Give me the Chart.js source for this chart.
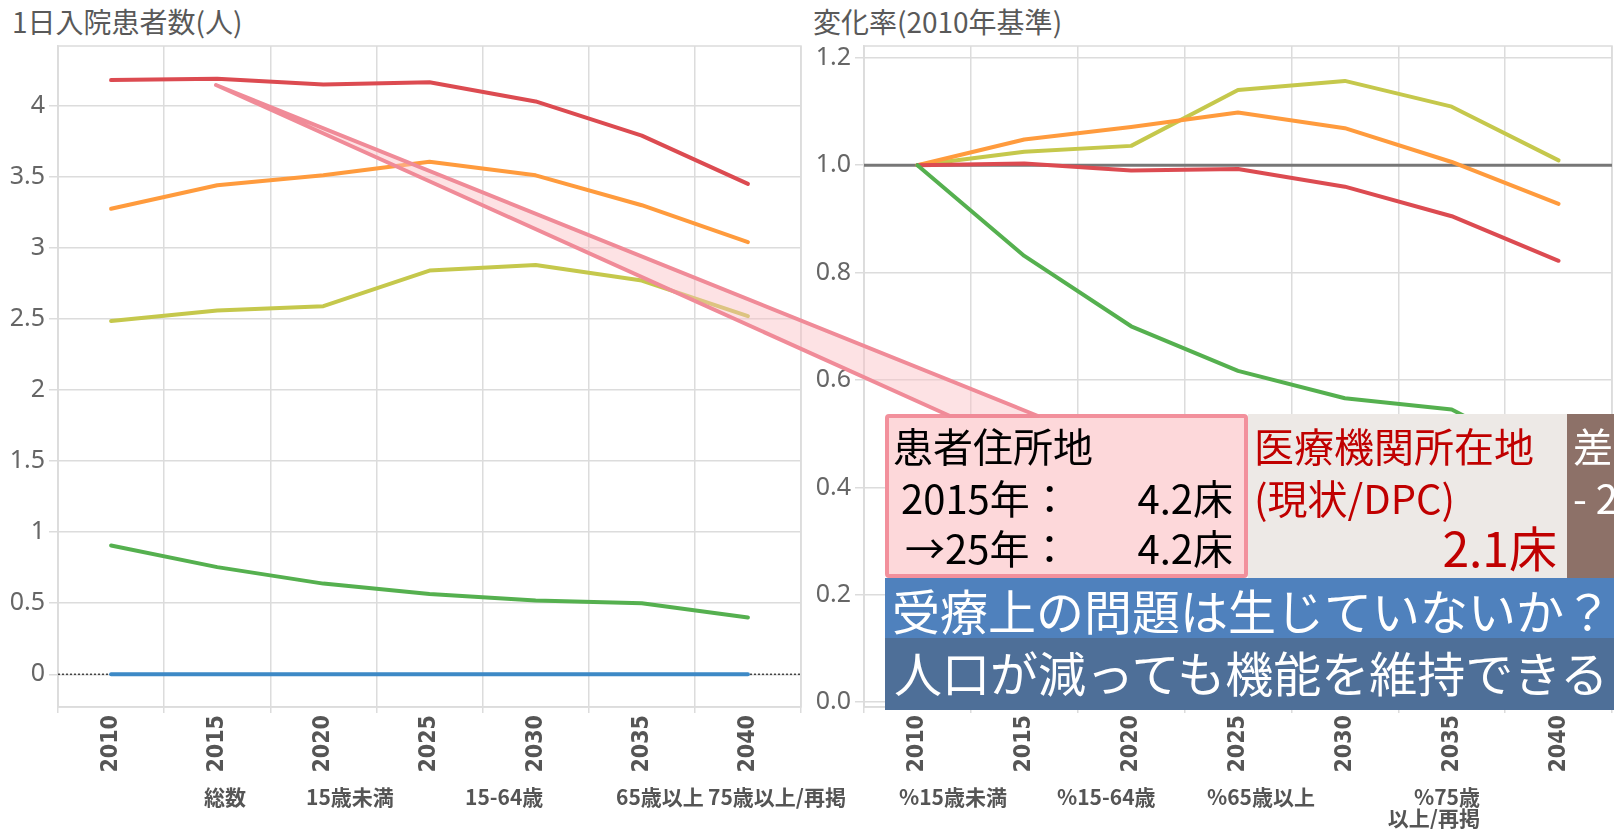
<!DOCTYPE html>
<html lang="ja">
<head>
<meta charset="utf-8">
<title>1日入院患者数と変化率</title>
<script src="https://cdn.jsdelivr.net/npm/chart.js@4.4.1/dist/chart.umd.min.js"></script>
<style>
  html, body { margin: 0; padding: 0; background: #fff; }
  body { width: 1614px; height: 829px; position: relative; overflow: hidden;
         font-family: "Noto Sans CJK JP", "Noto Sans", sans-serif; }
  canvas { position: absolute; top: 0; }
  #leftChart { left: 0; }
  #rightChart { left: 806px; }
  .title { position: absolute; top: 2px; font-size: 28px; line-height: 38px; color: #595959; white-space: nowrap; }
  .legend { position: absolute; font-size: 21px; line-height: 21px; font-weight: bold; color: #555; white-space: nowrap; }
  .box { position: absolute; box-sizing: border-box; }
  .txt { position: absolute; white-space: nowrap; font-size: 40px; line-height: 40px; }
  .big { position: absolute; white-space: nowrap; font-size: 48px; line-height: 48px; color: #fff; }
  #callout { position: absolute; left: 0; top: 0; pointer-events: none; }
</style>
</head>
<body>
<div class="title" style="left:12px">1日入院患者数(人)</div>
<div class="title" style="left:813px">変化率(2010年基準)</div>

<canvas id="leftChart" width="806" height="829"></canvas>
<canvas id="rightChart" width="808" height="829"></canvas>

<!-- series names under the axes -->
<div class="legend" style="left:204px;top:786px">総数</div>
<div class="legend" style="left:306px;top:786px">15歳未満</div>
<div class="legend" style="left:465px;top:786px">15-64歳</div>
<div class="legend" style="left:616px;top:786px">65歳以上</div>
<div class="legend" style="left:708px;top:786px">75歳以上/再掲</div>
<div class="legend" style="left:899px;top:786px">%15歳未満</div>
<div class="legend" style="left:1057px;top:786px">%15-64歳</div>
<div class="legend" style="left:1207px;top:786px">%65歳以上</div>
<div class="legend" style="left:1380px;top:786px;width:100px;text-align:right">%75歳<br>以上/再掲</div>

<!-- annotation boxes -->
<div class="box" style="left:885px;top:414px;width:363px;height:164px;background:#fdd8da;border:4px solid #f2909c;border-radius:4px"></div>
<div class="txt" style="left:893px;top:425px;color:#000">患者住所地</div>
<div class="txt" style="left:901px;top:477px;color:#000">2015年：</div>
<div class="txt" style="left:885px;top:477px;width:348px;text-align:right;color:#000">4.2床</div>
<div class="txt" style="left:905px;top:527px;color:#000">→25年：</div>
<div class="txt" style="left:885px;top:527px;width:348px;text-align:right;color:#000">4.2床</div>

<div class="box" style="left:1248px;top:414px;width:319px;height:164px;background:#ede9e6"></div>
<div class="txt" style="left:1254px;top:425px;color:#c00000">医療機関所在地</div>
<div class="txt" style="left:1254px;top:477px;color:#c00000">(現状/DPC)</div>
<div class="txt" style="left:1248px;top:522px;width:309px;text-align:right;color:#c00000;font-size:48px;line-height:48px">2.1床</div>

<div class="box" style="left:1567px;top:414px;width:47px;height:164px;background:#8d7168"></div>
<div class="txt" style="left:1573px;top:425px;color:#fff">差</div>
<div class="txt" style="left:1573px;top:477px;color:#fff">- 2.1床</div>

<div class="box" style="left:885px;top:578px;width:729px;height:60px;background:#4f81bd"></div>
<div class="big" style="left:892px;top:585px">受療上の問題は生じていないか？</div>
<div class="box" style="left:885px;top:638px;width:729px;height:72px;background:#4e6f98"></div>
<div class="big" style="left:894px;top:647px">人口が減っても機能を維持できる</div>

<svg id="callout" width="1614" height="829">
  <polygon points="216,85 950,416 1038,416" fill="rgba(250,190,196,0.45)" stroke="#f08b98" stroke-width="4" stroke-linejoin="round"/>
</svg>

<script>
// categories
const years = ['2010', '2015', '2020', '2025', '2030', '2035', '2040'];

// 1日入院患者数(人)
const patientsTotal = [4.18, 4.19, 4.15, 4.165, 4.03, 3.79, 3.45];
const patients65 = [3.275, 3.44, 3.51, 3.605, 3.51, 3.30, 3.04];
const patients75 = [2.485, 2.56, 2.59, 2.84, 2.88, 2.77, 2.52];
const patients1564 = [0.906, 0.754, 0.638, 0.565, 0.52, 0.50, 0.40];
const patientsUnder15 = [0, 0, 0, 0, 0, 0, 0];

// 変化率(2010年基準)
const rateTotal = [1.0, 1.003, 0.99, 0.993, 0.96, 0.905, 0.822];
const rate65 = [1.0, 1.048, 1.071, 1.098, 1.069, 1.006, 0.928];
const rate75 = [1.0, 1.025, 1.036, 1.14, 1.157, 1.109, 1.009];
const rate1564 = [1.0, 0.831, 0.70, 0.617, 0.566, 0.545, 0.442];

const RED = '#dc4b51';
const ORANGE = '#ff9b3d';
const OLIVE = '#c5c84c';
const GREEN = '#55b04f';
const BLUE = '#3d89c6';
const GRID = '#dcdcdc';

function line(label, data, color) {
    return {
        label: label,
        data: data,
        borderColor: color,
        backgroundColor: color,
        borderWidth: 4,
        pointRadius: 0,
        tension: 0,
        fill: false,
        borderCapStyle: 'round',
        borderJoinStyle: 'round'
    };
}

// outline round the plot area
const framePlugin = {
    id: 'frame',
    beforeDatasetsDraw(chart) {
        const { ctx, chartArea: a } = chart;
        ctx.save();
        ctx.strokeStyle = GRID;
        ctx.lineWidth = 1.5;
        ctx.strokeRect(a.left, a.top, a.width, a.height);
        ctx.restore();
    }
};

// horizontal reference line (0 on the left, 1.0 on the right)
const refLinePlugin = {
    id: 'refLine',
    beforeDatasetsDraw(chart, args, opts) {
        if (opts.value === undefined) return;
        const { ctx, chartArea: a } = chart;
        const y = chart.scales.y.getPixelForValue(opts.value);
        ctx.save();
        ctx.strokeStyle = opts.color;
        ctx.lineWidth = opts.width;
        ctx.setLineDash(opts.dash || []);
        ctx.beginPath();
        ctx.moveTo(a.left, y);
        ctx.lineTo(a.right, y);
        ctx.stroke();
        ctx.restore();
    }
};

function buildOptions(yMin, yMax, step, fmt, yWidth, padRight, ref) {
    return {
        responsive: false,
        animation: false,
        devicePixelRatio: 1,
        layout: { padding: { top: 46, right: padRight, left: 0, bottom: 0 } },
        plugins: {
            legend: { display: false },
            title: { display: false },
            tooltip: { enabled: false },
            refLine: ref
        },
        scales: {
            x: {
                offset: true,
                grid: { offset: true, color: GRID, lineWidth: 1.5, tickLength: 6 },
                border: { color: GRID, width: 1.5 },
                ticks: {
                    minRotation: 90,
                    maxRotation: 90,
                    padding: 2,
                    color: '#555',
                    font: { family: "'DejaVu Sans Condensed', 'DejaVu Sans', sans-serif", size: 23, weight: 'bold' }
                },
                afterFit: s => { s.height = 122; }
            },
            y: {
                min: yMin,
                max: yMax,
                grid: { color: GRID, lineWidth: 1.5, tickLength: 9 },
                border: { color: GRID, width: 1.5 },
                ticks: {
                    stepSize: step,
                    includeBounds: false,
                    padding: 4,
                    color: '#666',
                    font: { family: "'Noto Sans', sans-serif", size: 25 },
                    callback: fmt
                },
                afterFit: s => { s.width = yWidth; }
            }
        }
    };
}

new Chart(document.getElementById('leftChart'), {
    type: 'line',
    data: {
        labels: years,
        datasets: [
            line('15歳未満', patientsUnder15, BLUE),
            line('15-64歳', patients1564, GREEN),
            line('75歳以上/再掲', patients75, OLIVE),
            line('65歳以上', patients65, ORANGE),
            line('総数', patientsTotal, RED)
        ]
    },
    options: buildOptions(-0.23, 4.42, 0.5, v => String(Math.round(v * 10) / 10), 58, 5,
        { value: 0, color: '#444', width: 1.5, dash: [2, 2] }),
    plugins: [framePlugin, refLinePlugin]
});

new Chart(document.getElementById('rightChart'), {
    type: 'line',
    data: {
        labels: years,
        datasets: [
            line('%15-64歳', rate1564, GREEN),
            line('総数', rateTotal, RED),
            line('%65歳以上', rate65, ORANGE),
            line('%75歳以上/再掲', rate75, OLIVE)
        ]
    },
    options: buildOptions(-0.009, 1.222, 0.2, v => v.toFixed(1), 58, 2,
        { value: 1, color: '#777', width: 3 }),
    plugins: [framePlugin, refLinePlugin]
});
</script>
</body>
</html>
